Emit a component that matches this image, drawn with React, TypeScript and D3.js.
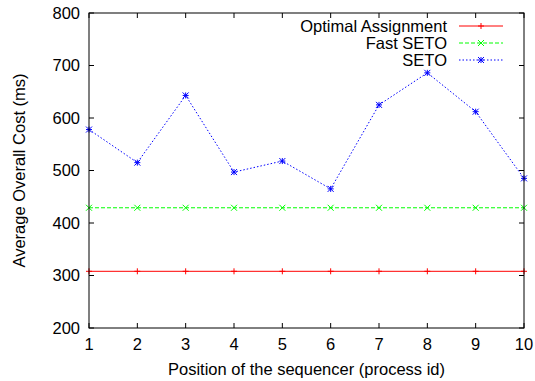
import * as d3 from "d3";
import { useEffect, useRef } from "react";

const positions = [1, 2, 3, 4, 5, 6, 7, 8, 9, 10];
const optimal = [308, 308, 308, 308, 308, 308, 308, 308, 308, 308];
const fastSeto = [429, 429, 429, 429, 429, 429, 429, 429, 429, 429];
const seto = [578, 515, 643, 497, 518, 465, 625, 686, 612, 485];
const yTicks = [200, 300, 400, 500, 600, 700, 800];

const series = [
  { name: "Optimal Assignment", values: optimal, color: "#ff0000", dash: "none", marker: "plus" },
  { name: "Fast SETO", values: fastSeto, color: "#00ff00", dash: "4,2", marker: "cross" },
  { name: "SETO", values: seto, color: "#0000ff", dash: "1.5,2", marker: "star" },
];

const W = 535;
const H = 381;

function markerPath(type: string, s: number) {
  const h = s / 2;
  const plus = `M${-h},0L${h},0M0,${-h}L0,${h}`;
  const cross = `M${-h},${-h}L${h},${h}M${-h},${h}L${h},${-h}`;
  if (type === "plus") return plus;
  if (type === "cross") return cross;
  return plus + cross;
}

export default function App() {
  const svgRef = useRef<SVGSVGElement>(null);

  useEffect(() => {
    if (!svgRef.current) return;
    const svg = d3.select(svgRef.current);
    svg.selectAll("*").remove();

    const margin = { top: 13, right: 11, bottom: 53, left: 89 };
    const innerW = W - margin.left - margin.right;
    const innerH = H - margin.top - margin.bottom;
    const font = "Liberation Sans, Arial, sans-serif";
    const fs = 16.5;

    const g = svg.append("g").attr("transform", `translate(${margin.left},${margin.top})`);

    const x = d3.scaleLinear().domain([1, 10]).range([0, innerW]);
    const y = d3.scaleLinear().domain([200, 800]).range([innerH, 0]);

    const tick = 5;
    // ticks (mirrored, inward)
    positions.forEach((p) => {
      g.append("line").attr("x1", x(p)).attr("x2", x(p)).attr("y1", innerH).attr("y2", innerH - tick).attr("stroke", "#000");
      g.append("line").attr("x1", x(p)).attr("x2", x(p)).attr("y1", 0).attr("y2", tick).attr("stroke", "#000");
      g.append("text").attr("x", x(p)).attr("y", innerH + 22).attr("text-anchor", "middle")
        .attr("font-family", font).attr("font-size", fs).text(p);
    });
    yTicks.forEach((t) => {
      g.append("line").attr("x1", 0).attr("x2", tick).attr("y1", y(t)).attr("y2", y(t)).attr("stroke", "#000");
      g.append("line").attr("x1", innerW).attr("x2", innerW - tick).attr("y1", y(t)).attr("y2", y(t)).attr("stroke", "#000");
      g.append("text").attr("x", -9).attr("y", y(t)).attr("dy", "0.36em").attr("text-anchor", "end")
        .attr("font-family", font).attr("font-size", fs).text(t);
    });

    const line = d3.line<number>().x((_, i) => x(positions[i])).y((d) => y(d));

    series.forEach((s) => {
      g.append("path").datum(s.values).attr("d", line).attr("fill", "none")
        .attr("stroke", s.color).attr("stroke-width", 1).attr("stroke-dasharray", s.dash);
      g.selectAll(null).data(s.values).enter().append("path")
        .attr("transform", (d, i) => `translate(${x(positions[i])},${y(d)})`)
        .attr("d", markerPath(s.marker, 6)).attr("stroke", s.color).attr("fill", "none");
    });

    // border
    g.append("rect").attr("width", innerW).attr("height", innerH).attr("fill", "none").attr("stroke", "#000");

    // legend
    series.forEach((s, i) => {
      const ly = 26 + i * 17 - margin.top;
      const lx = 447 - margin.left;
      g.append("text").attr("x", lx).attr("y", ly).attr("dy", "0.36em").attr("text-anchor", "end")
        .attr("font-family", font).attr("font-size", fs).text(s.name);
      g.append("line").attr("x1", lx + 12).attr("x2", lx + 56).attr("y1", ly).attr("y2", ly)
        .attr("stroke", s.color).attr("stroke-dasharray", s.dash);
      g.append("path").attr("transform", `translate(${lx + 34},${ly})`).attr("d", markerPath(s.marker, 6))
        .attr("stroke", s.color).attr("fill", "none");
    });

    svg.append("text").attr("x", margin.left + innerW / 2).attr("y", 375).attr("text-anchor", "middle")
      .attr("font-family", font).attr("font-size", fs).text("Position of the sequencer (process id)");
    svg.append("text").attr("transform", `translate(25,${margin.top + innerH / 2}) rotate(-90)`)
      .attr("text-anchor", "middle").attr("font-family", font).attr("font-size", fs)
      .text("Average Overall Cost (ms)");
  }, []);

  return (
    <svg ref={svgRef} width={W} height={H} style={{ position: "absolute", left: 0, top: 0, background: "#fff" }} />
  );
}
